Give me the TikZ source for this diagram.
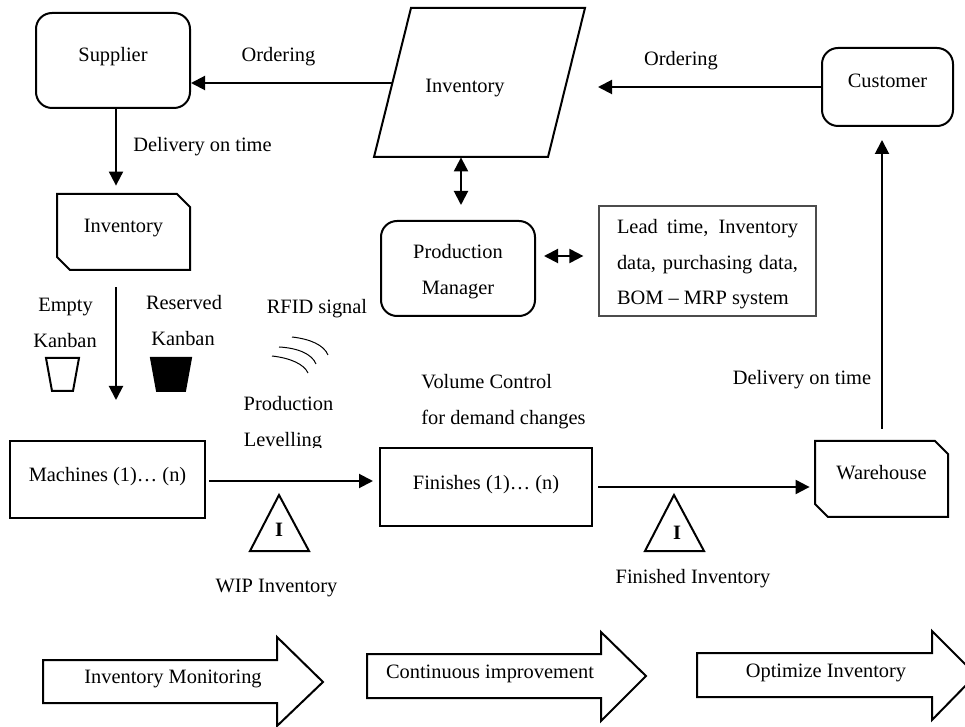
\documentclass[tikz,border=0pt]{standalone}
\usepackage{fontspec}
\setmainfont{Liberation Serif}
\usetikzlibrary{arrows.meta}
\tikzset{
  every node/.append style={font=\fontsize{10.2}{12}\selectfont},
  txt/.style={anchor=base,inner sep=0pt},
  txtl/.style={anchor=base west,inner sep=0pt},
  box/.style={draw,line width=1pt,inner sep=0pt,text depth=3pt,text height=#1},
  rbox/.style={box=#1,rounded corners=8pt},
  mbox/.style={inner sep=0pt,text depth=3pt,text height=#1},
  pipe/.style={line width=1pt,-{Triangle[length=7pt,width=7pt]}},
  dpipe/.style={line width=1pt,{Triangle[length=7pt,width=7pt]}-{Triangle[length=7pt,width=7pt]}},
  outline/.style={line width=1pt,line join=miter}
}
\begin{document}
\begin{tikzpicture}[x=0.5pt,y=-0.5pt]
  \useasboundingbox (0,0) rectangle (965,727);

  % BOXES
  \node[rbox=4.5pt,minimum width=77pt,minimum height=47.5pt] (supplier) at (113,60.5) {Supplier};
  \node[rbox=4pt,minimum width=65.5pt,minimum height=39pt] (customer) at (887.5,87) {Customer};
  \node[draw,line width=1pt,rounded corners=8pt,inner sep=0pt,align=center,minimum width=77pt,minimum height=47.5pt] (manager) at (458,268.5) {\rule{0pt}{9.8pt}Production\\[6pt]Manager};
  \node[box=4.5pt,minimum width=97.5pt,minimum height=38.5pt] (machines) at (107.5,479.5) {Machines (1)\ldots{} (n)};
  \node[box=6pt,minimum width=106pt,minimum height=39pt] (finishes) at (486,487) {Finishes (1)\ldots{} (n)};
  \node[draw=black!70,line width=0.6pt,inner sep=0pt,align=left,minimum width=108.5pt,minimum height=55pt] (data) at (707.5,261) {\rule{0pt}{10.2pt}\makebox[90.5pt][s]{Lead time, Inventory}\\[6pt]\makebox[90.5pt][s]{data, purchasing data,}\\[5.5pt]BOM -- MRP system};

  % BOXES WITH CUT CORNERS
  \node[mbox=3.5pt,minimum width=66.5pt,minimum height=38pt] (stock) at (123.5,232) {Inventory};
  \node[mbox=3.5pt,minimum width=66.5pt,minimum height=38pt] (warehouse) at (881.5,479) {Warehouse};
  \draw[outline] (57,194) -- (177,194) -- (190,207) -- (190,270) -- (70,270) -- (57,257) -- cycle;
  \draw[outline] (815,441) -- (935,441) -- (948,454) -- (948,517) -- (828,517) -- (815,504) -- cycle;

  % PARALLELOGRAM
  \node[inner sep=0pt,minimum width=105.5pt,minimum height=74.5pt] (store) at (479.5,82.5) {};
  \draw[outline] (411,8) -- (585,8) -- (548,157) -- (374,157) -- cycle;
  \node[txt] (storetext) at (465,93) {Inventory};

  % FREE ENDS
  \coordinate (a) at (116,108);
  \coordinate (c) at (116,287);
  \coordinate (e) at (208,481);
  \coordinate (g) at (597,487);
  \coordinate (i) at (882,429);
  \coordinate (l) at (598,87);
  \coordinate (m) at (392,83);
  \coordinate (o) at (461,158);
  \coordinate (q) at (543,256);

  % ARROWS
  \draw[pipe] (m) -- (m -| supplier.east);
  \draw[pipe] (customer.west) -- (l);
  \draw[pipe,shorten >=4pt] (supplier.south -| a) -- (stock.north -| a);
  \draw[pipe,shorten <=8.5pt,shorten >=20pt] (stock.south -| c) -- (machines.north -| c);
  \draw[pipe,shorten <=1.5pt,shorten >=3pt] (machines.east |- e) -- (finishes.west |- e);
  \draw[pipe,shorten <=2.5pt,shorten >=2.5pt] (finishes.east |- g) -- (warehouse.west |- g);
  \draw[pipe,shorten <=6pt,shorten >=6.5pt] (warehouse.north -| i) -- (customer.south -| i);
  \draw[dpipe,shorten >=7.5pt] (store.south -| o) -- (manager.north -| o);
  \draw[dpipe,shorten <=4pt,shorten >=7.5pt] (manager.east |- q) -- (data.west |- q);

  % KANBAN
  \draw[outline] (46,358) -- (79,358) -- (73,391) -- (52,391) -- cycle;
  \filldraw[outline] (151,358) -- (191,358) -- (185,391) -- (157,391) -- cycle;

  % SIGNAL
  \draw[line width=0.5pt] (292,337) .. controls (310,339) and (324,345) .. (328,355);
  \draw[line width=0.5pt] (279,347) .. controls (298,348) and (312,354) .. (316,364);
  \draw[line width=0.5pt] (272,356) .. controls (290,358) and (304,364) .. (308,373);

  % TRIANGLES
  \draw[outline] (279,495) -- (309,551) -- (250,551) -- cycle;
  \draw[outline] (674,495) -- (704,551) -- (645,551) -- cycle;

  % BIG ARROWS
  \draw[outline] (43,660) -- (277,660) -- (277,637) -- (323,682) -- (277,726) -- (277,703) -- (43,703) -- cycle;
  \draw[outline] (367,654) -- (601,654) -- (601,632) -- (646,676) -- (601,721) -- (601,698) -- (367,698) -- cycle;
  \draw[outline] (697,653) -- (932,653) -- (932,631) -- (976,675) -- (932,720) -- (932,697) -- (697,697) -- cycle;

  % TEXTS
  \node[txt] (orderleft) at (278.5,62) {Ordering};
  \node[txt] (orderright) at (681,66) {Ordering};
  \node[txt] (deliverleft) at (202.5,152) {Delivery on time};
  \node[txt] (empty) at (65.5,312) {Empty};
  \node[txt] (emptyk) at (65,348) {Kanban};
  \node[txt] (reserved) at (184,310) {Reserved};
  \node[txt] (reservedk) at (183,346) {Kanban};
  \node[txt] (rfid) at (317,314) {RFID signal};
  \node[txt] (prod) at (288.5,411) {Production};
  \begin{scope}
    \clip (230,420) rectangle (340,448);
    \node[txt] (level) at (283,447) {Levelling};
  \end{scope}
  \node[txtl] (volume) at (421,389) {Volume Control};
  \node[txtl] (demand) at (421,425) {for demand changes};
  \node[txt] (deliverright) at (802,385) {Delivery on time};
  \node[txt,font=\fontsize{10.2}{12}\selectfont\bfseries] (wipi) at (279,537) {I};
  \node[txt,font=\fontsize{10.2}{12}\selectfont\bfseries] (fini) at (677,539) {I};
  \node[txt] (wip) at (276.5,592) {WIP Inventory};
  \node[txt] (finished) at (693,583) {Finished Inventory};
  \node[txt] (monitor) at (173,683) {Inventory Monitoring};
  \node[txt] (improve) at (490,678) {Continuous improvement};
  \node[txt] (optimize) at (826,677) {Optimize Inventory};
\end{tikzpicture}
\end{document}
